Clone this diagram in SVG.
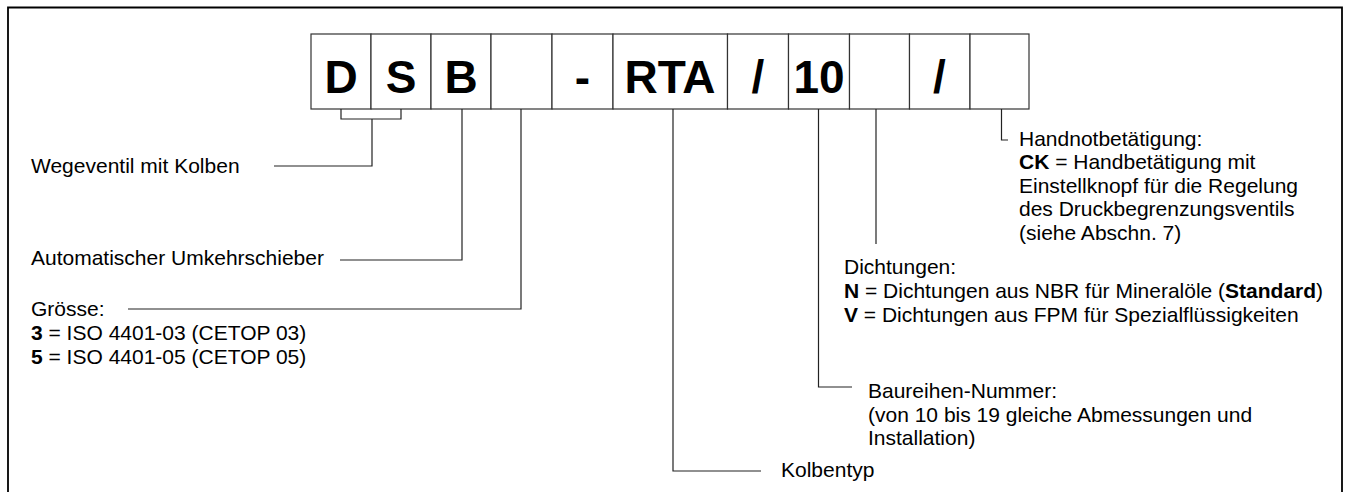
<svg xmlns="http://www.w3.org/2000/svg" width="1346" height="492" viewBox="0 0 1346 492">
<style>
.frame{fill:none;stroke:#000;stroke-width:1.8}
.box{fill:#fff;stroke:#333;stroke-width:1.2}
.code{font-family:"Liberation Sans",Arial,sans-serif;font-weight:bold;font-size:46px;fill:#000;text-anchor:middle}
.lbl{font-family:"Liberation Sans",Arial,sans-serif;font-size:21px;fill:#000}
.b{font-weight:bold}
.conn path{fill:none;stroke:#222;stroke-width:1.2}
</style>
<rect x="0" y="0" width="1346" height="492" fill="#fff"/>
<path class="frame" d="M8,492 V7.5 H1342 V492"/>
<g id="code">
<g id="box-D"><rect class="box" x="311" y="34" width="60" height="75"/><text class="code" x="341" y="93">D</text></g>
<g id="box-S"><rect class="box" x="371" y="34" width="60" height="75"/><text class="code" x="401" y="93">S</text></g>
<g id="box-B"><rect class="box" x="431" y="34" width="60" height="75"/><text class="code" x="461" y="93">B</text></g>
<g id="box-size"><rect class="box" x="491" y="34" width="61" height="75"/></g>
<g id="box-dash"><rect class="box" x="552" y="34" width="61" height="75"/><text class="code" x="582.5" y="93">-</text></g>
<g id="box-RTA"><rect class="box" x="613" y="34" width="114.5" height="75"/><text class="code" x="670" y="93">RTA</text></g>
<g id="box-slash1"><rect class="box" x="727.5" y="34" width="61" height="75"/><text class="code" x="758" y="93">/</text></g>
<g id="box-10"><rect class="box" x="788.5" y="34" width="61" height="75"/><text class="code" x="819" y="93">10</text></g>
<g id="box-seal"><rect class="box" x="849.5" y="34" width="60" height="75"/></g>
<g id="box-slash2"><rect class="box" x="909.5" y="34" width="60.5" height="75"/><text class="code" x="939.5" y="93">/</text></g>
<g id="box-manual"><rect class="box" x="970" y="34" width="59" height="75"/></g>
</g>
<g id="connectors" class="conn">
<path d="M341,109 V119 H401 V109 M372,119 V166 H274"/>
<path d="M462,109 V260 H340"/>
<path d="M521,109 V309 H128"/>
<path d="M673,109 V471 H761"/>
<path d="M818.5,109 V387 H852"/>
<path d="M876,109 V244"/>
<path d="M1001.5,109 V140 H1008"/>
</g>
<g id="label-wegeventil"><text class="lbl" x="31" y="173">Wegeventil mit Kolben</text></g>
<g id="label-umkehr"><text class="lbl" x="31" y="265">Automatischer Umkehrschieber</text></g>
<g id="label-groesse"><text class="lbl" x="31" y="316">Grösse:</text>
<text class="lbl" x="31" y="340"><tspan class="b">3</tspan> = ISO 4401-03 (CETOP 03)</text>
<text class="lbl" x="31" y="364"><tspan class="b">5</tspan> = ISO 4401-05 (CETOP 05)</text></g>
<g id="label-kolbentyp"><text class="lbl" x="781" y="477">Kolbentyp</text></g>
<g id="label-baureihe"><text class="lbl" x="868" y="398">Baureihen-Nummer:</text>
<text class="lbl" x="868" y="421.5">(von 10 bis 19 gleiche Abmessungen und</text>
<text class="lbl" x="868" y="445">Installation)</text></g>
<g id="label-dichtungen"><text class="lbl" x="844" y="274">Dichtungen:</text>
<text class="lbl" x="844" y="298"><tspan class="b">N</tspan> = Dichtungen aus NBR für Mineralöle (<tspan class="b">Standard</tspan>)</text>
<text class="lbl" x="844" y="322"><tspan class="b">V</tspan> = Dichtungen aus FPM für Spezialflüssigkeiten</text></g>
<g id="label-hand"><text class="lbl" x="1019" y="145.5">Handnotbetätigung:</text>
<text class="lbl" x="1019" y="169"><tspan class="b">CK</tspan> = Handbetätigung mit</text>
<text class="lbl" x="1019" y="192.5">Einstellknopf für die Regelung</text>
<text class="lbl" x="1019" y="216">des Druckbegrenzungsventils</text>
<text class="lbl" x="1019" y="239.5">(siehe Abschn. 7)</text></g>
</svg>
